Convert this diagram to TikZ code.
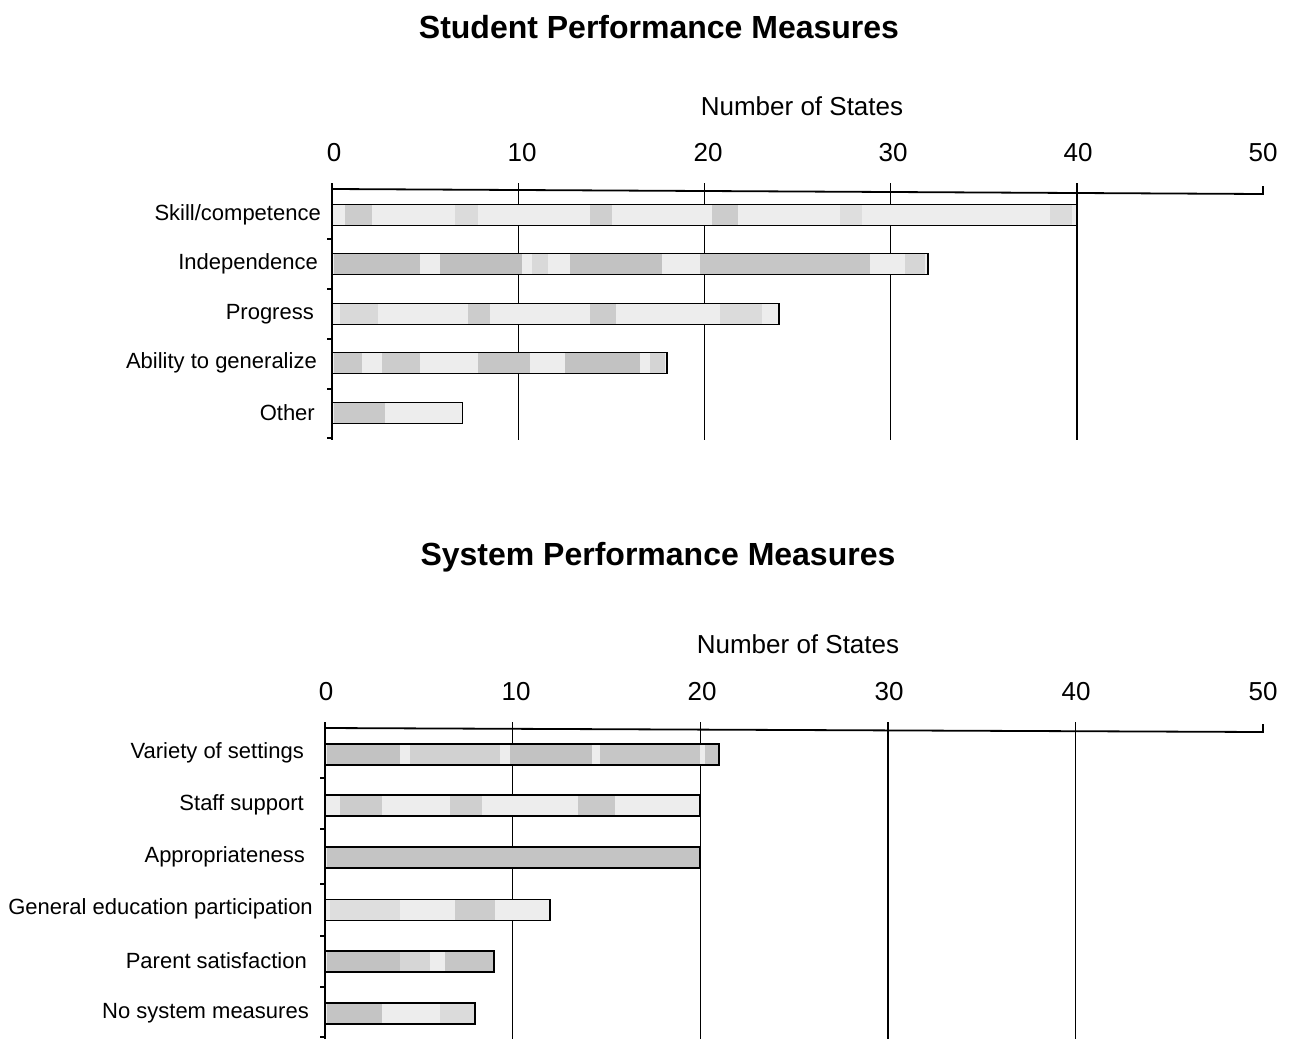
\documentclass[tikz,border=0pt]{standalone}
\usepackage{fontspec}
\setmainfont{Liberation Sans}
\begin{document}
\begin{tikzpicture}[x=1pt,y=-1pt,
  grid/.style={line width=1.4pt,black},
  axisline/.style={line width=1.8pt,black},
  barline/.style={line width=1.6pt,black},
  cat/.style={anchor=east,inner sep=0pt,font=\fontsize{22}{26}\selectfont},
  ticklab/.style={inner sep=0pt,font=\fontsize{26}{30}\selectfont},
  ttl/.style={inner sep=0pt,font=\fontsize{32}{37}\selectfont\bfseries}]
\useasboundingbox (0,0) rectangle (1295,1039);

\newcommand{\mybar}[4]{%
  \fill[gray!14] (#2,#1-10.5) rectangle (#3,#1+10.5);
  \foreach \pa/\pb/\pc in {#4} {\fill[gray!\pc] (\pa,#1-10.5) rectangle (\pb,#1+10.5);}
  \draw[barline] (#2,#1-10.5) rectangle (#3,#1+10.5);
}

% ---------------- Top chart ----------------
\node[ttl] (t1) at (659,27) {Student Performance Measures};
\node[ticklab] (n1) at (802,106) {Number of States};
\foreach \v/\xx in {0/334,10/522,20/708,30/893,40/1078,50/1263}
  \node[ticklab] (ta\v) at (\xx,153) {\v};

\foreach \xx in {518.2,704.4,890.6,1076.8}
  \draw[grid] (\xx,183) -- (\xx,440);
\draw[axisline] (332,183) -- (332,440);
\draw[axisline] (332,189) -- (1263,194) -- (1263,186);
\foreach \yy in {239,289,339,389,438}
  \draw[line width=1.2pt] (327,\yy) -- (332,\yy);

\mybar{215}{332}{1076.8}{345/372/40,455/478/28,590/612/38,712/738/40,840/862/26,1050/1072/28}
\mybar{264}{332}{927.8}{334/420/48,440/522/50,532/548/30,570/662/48,700/870/45,905/925/32}
\mybar{314}{332}{778.9}{340/378/30,468/490/40,590/616/40,720/762/28}
\mybar{363}{332}{667.2}{334/362/42,382/420/40,478/530/45,565/640/48,650/665/34}
\mybar{413}{332}{462.3}{334/385/42}

\node[cat] (c1) at (321,215) {Skill/competence};
\node[cat] (c2) at (318,264) {Independence};
\node[cat] (c3) at (314,314) {Progress};
\node[cat] (c4) at (317,363) {Ability to generalize};
\node[cat] (c5) at (315,413) {Other};

% ---------------- Bottom chart ----------------
\node[ttl] (t2) at (658,557) {System Performance Measures};
\node[ticklab] (n2) at (798,644) {Number of States};
\foreach \v/\xx in {0/326,10/516,20/702,30/889,40/1076,50/1263}
  \node[ticklab] (tb\v) at (\xx,692) {\v};

\foreach \xx in {512.6,700.2,887.8,1075.4}
  \draw[grid] (\xx,722) -- (\xx,1039);
\draw[axisline] (325,722) -- (325,1039);
\draw[axisline] (325,728) -- (1263,732) -- (1263,724);
\foreach \yy in {778,829,884,936,987,1037}
  \draw[line width=1.2pt] (320,\yy) -- (325,\yy);

\mybar{754.5}{325}{719}{327/400/48,410/500/36,510/592/48,600/700/45,705/719/45}
\mybar{805.5}{325}{700.2}{340/382/40,450/482/38,578/615/42}
\mybar{857.5}{325}{700.2}{327/700/46}
\mybar{910}{325}{550.1}{330/400/26,455/495/40}
\mybar{961.5}{325}{493.8}{327/400/48,400/430/32,445/494/45}
\mybar{1013.5}{325}{475}{327/382/46,440/475/28}

\node[cat] (d1) at (304,753) {Variety of settings};
\node[cat] (d2) at (304,805) {Staff support};
\node[cat] (d3) at (305,857) {Appropriateness};
\node[cat] (d4) at (313,909) {General education participation};
\node[cat] (d5) at (307,961) {Parent satisfaction};
\node[cat] (d6) at (309,1013) {No system measures};
\end{tikzpicture}
\end{document}
